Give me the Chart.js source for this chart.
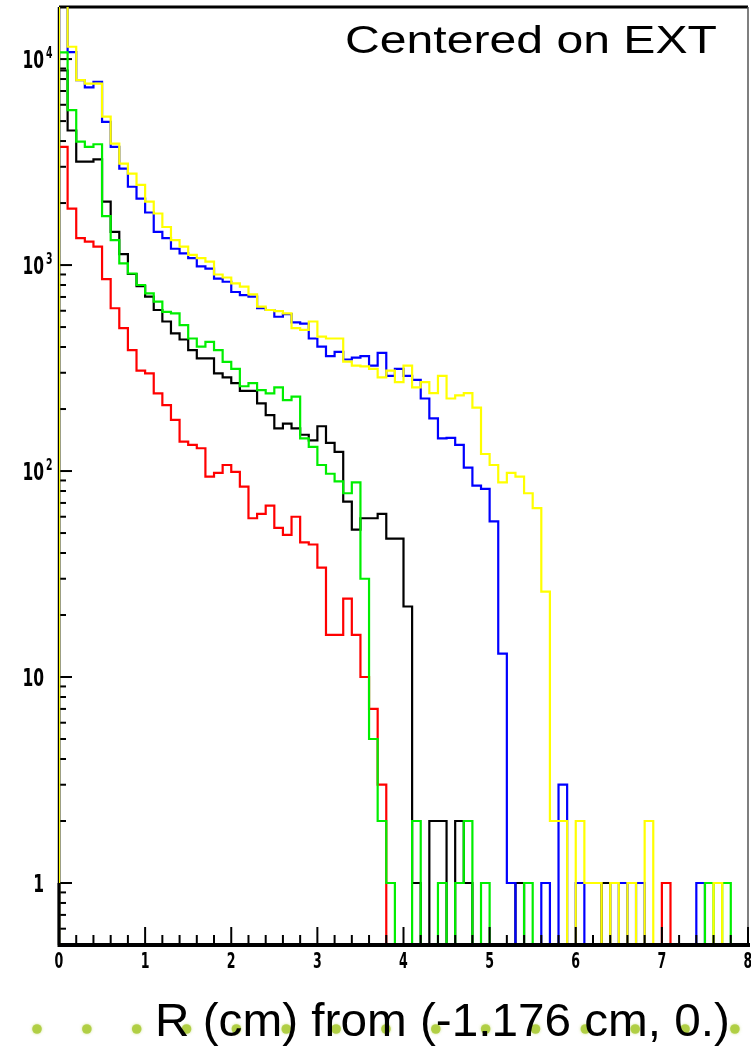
<!DOCTYPE html>
<html>
<head>
<meta charset="utf-8">
<script src="https://cdn.jsdelivr.net/npm/chart.js@4.4.1/dist/chart.umd.min.js"></script>
<style>
  html, body { margin: 0; padding: 0; background: #ffffff; }
  #wrap { position: relative; width: 751px; height: 1047px; }
</style>
</head>
<body>
<div id="wrap"><canvas id="chart"></canvas></div>
<script>
// Radial distribution of hits, R (cm) measured from (-1.176 cm, 0.), 80 bins of 0.1 cm.
const binWidth = 0.1;
const binLowEdges = Array.from({ length: 80 }, (_, i) => +(i * binWidth).toFixed(1));

const yellowCounts = [
  25000, 11480, 7910, 7600, 7600, 5250, 3890, 3110, 2780, 2450,
  2030, 1780, 1530, 1320, 1230, 1120, 1080, 1040, 900, 870,
  815, 785, 720, 628, 605, 598, 583, 494, 485, 532,
  449, 440, 440, 340, 325, 322, 313, 285, 307, 270,
  325, 255, 270, 239, 290, 225, 233, 239, 203, 121,
  107, 88, 98, 94, 78, 66, 26, 2, 2, 0,
  2, 1, 1, 0, 1, 0, 1, 0, 2, 0,
  0, 0, 0, 0, 0, 0, 1, 0, 0, 0
];
const blueCounts = [
  25000, 10800, 7900, 7290, 7760, 4960, 3750, 2940, 2400, 2100,
  1800, 1450, 1350, 1200, 1140, 1080, 985, 960, 860, 830,
  740, 715, 702, 617, 605, 561, 578, 527, 520, 440,
  402, 361, 379, 348, 355, 361, 325, 375, 290, 313,
  290, 277, 225, 180, 144, 145, 134, 104, 85, 82,
  57, 13, 1, 0, 0, 0, 1, 0, 3, 0,
  1, 0, 0, 0, 0, 1, 0, 1, 0, 0,
  0, 0, 0, 0, 1, 0, 0, 0, 0, 0
];
const greenCounts = [
  10770, 5650, 3970, 3750, 3860, 1730, 1320, 1020, 910, 800,
  729, 664, 593, 583, 511, 440, 402, 424, 386, 339,
  313, 258, 267, 247, 238, 255, 221, 230, 144, 131,
  107, 97, 89, 78, 88, 30, 5, 2, 1, 0,
  0, 2, 0, 0, 1, 0, 1, 2, 0, 1,
  0, 0, 0, 0, 1, 0, 0, 0, 0, 0,
  0, 0, 0, 0, 0, 0, 0, 0, 0, 0,
  0, 0, 0, 0, 0, 1, 0, 1, 0, 0
];
const redCounts = [
  3750, 1880, 1350, 1300, 1230, 855, 617, 494, 386, 307,
  298, 238, 209, 177, 139, 134, 129, 94, 98, 107,
  99, 84, 59, 62, 68, 53, 49, 60, 45, 44,
  34, 16, 16, 24, 16, 10, 7, 3, 0, 0,
  0, 0, 0, 0, 0, 0, 0, 0, 0, 0,
  0, 0, 0, 0, 0, 0, 0, 0, 0, 0,
  0, 0, 0, 0, 0, 0, 0, 0, 0, 0,
  1, 0, 0, 0, 0, 0, 0, 0, 0, 0
];
const blackCounts = [
  8800, 4500, 3180, 3180, 3260, 2030, 1450, 1130, 905, 790,
  702, 605, 532, 466, 435, 386, 352, 352, 298, 285,
  267, 245, 245, 213, 187, 161, 170, 161, 150, 141,
  165, 137, 124, 71, 52, 59, 59, 62, 47, 47,
  22, 1, 0, 2, 2, 0, 2, 1, 0, 0,
  0, 0, 0, 1, 0, 0, 0, 0, 0, 0,
  0, 0, 0, 1, 0, 0, 0, 0, 0, 0,
  0, 0, 0, 0, 0, 0, 0, 0, 0, 0
];

const xTickLabels = ['0', '1', '2', '3', '4', '5', '6', '7', '8'];
const yDecadeLabels = [
  { value: 1, base: '1', exp: '' },
  { value: 10, base: '10', exp: '' },
  { value: 100, base: '10', exp: '2' },
  { value: 1000, base: '10', exp: '3' },
  { value: 10000, base: '10', exp: '4' }
];
const titleText = 'Centered on EXT';
const axisTitleText = 'R (cm) from (-1.176 cm, 0.)';

const X_MIN = 0, X_MAX = 8;
const Y_MIN = 0.5, Y_MAX = 17900;
const FLOOR = 0.2; // empty bins fall below the visible floor of the log axis

function histogramPoints(counts) {
  const pts = [{ x: X_MIN, y: FLOOR }];
  counts.forEach((c, i) => pts.push({ x: binLowEdges[i], y: c > 0 ? c : FLOOR }));
  const last = counts[counts.length - 1];
  pts.push({ x: X_MAX, y: last > 0 ? last : FLOOR });
  pts.push({ x: X_MAX, y: FLOOR });
  return pts;
}

function histDataset(label, counts, color, order) {
  return {
    label,
    data: histogramPoints(counts),
    borderColor: color,
    backgroundColor: color,
    borderWidth: 2.2,
    pointRadius: 0,
    pointHoverRadius: 0,
    stepped: 'before',
    fill: false,
    tension: 0,
    borderCapStyle: 'butt',
    borderJoinStyle: 'miter',
    order
  };
}

function drawScaledText(ctx, text, x, y, font, sx, align) {
  ctx.save();
  ctx.font = font;
  ctx.textAlign = 'left';
  ctx.textBaseline = 'alphabetic';
  const w = ctx.measureText(text).width * sx;
  const x0 = align === 'right' ? x - w : (align === 'center' ? x - w / 2 : x);
  ctx.translate(x0, y);
  ctx.scale(sx, 1);
  ctx.fillText(text, 0, 0);
  ctx.restore();
  return w;
}

function drawFittedText(ctx, text, x, y, font, width) {
  ctx.save();
  ctx.font = font;
  const natural = ctx.measureText(text).width;
  ctx.restore();
  drawScaledText(ctx, text, x, y, font, width / natural, 'left');
}

function seg(ctx, x1, y1, x2, y2) {
  ctx.beginPath();
  ctx.moveTo(x1, y1);
  ctx.lineTo(x2, y2);
  ctx.stroke();
}

const slideDecor = {
  id: 'slideDecor',
  beforeDraw(chart) {
    const ctx = chart.ctx;
    ctx.save();
    ctx.fillStyle = '#ffffff';
    ctx.fillRect(0, 0, chart.width, chart.height);
    // row of bullet dots along the bottom of the slide
    ctx.fillStyle = 'rgba(172, 204, 58, 0.9)';
    ctx.shadowColor = 'rgba(172, 204, 58, 0.6)';
    ctx.shadowBlur = 3;
    for (let k = 0; k < 15; k++) {
      ctx.beginPath();
      ctx.arc(37 + 49.85 * k, 1029, 4.8, 0, Math.PI * 2);
      ctx.fill();
    }
    ctx.restore();
  },
  afterDraw(chart) {
    const ctx = chart.ctx;
    ctx.save();
    ctx.fillStyle = '#000000';
    drawFittedText(ctx, titleText, 345, 53, '38px "Liberation Sans", Arial, sans-serif', 372);
    drawFittedText(ctx, axisTitleText, 155, 1036, '46px "Liberation Sans", Arial, sans-serif', 575);
    ctx.restore();
  }
};

const frameAndAxes = {
  id: 'frameAndAxes',
  beforeDatasetsDraw(chart) {
    const { ctx, chartArea: a, scales: { y } } = chart;
    ctx.save();
    ctx.strokeStyle = '#000000';
    ctx.lineWidth = 3;
    seg(ctx, a.left, a.top, a.right, a.top);
    ctx.strokeStyle = '#555555';
    ctx.lineWidth = 1.5;
    seg(ctx, a.right, a.top, a.right, a.bottom);
    ctx.strokeStyle = '#000000';
    ctx.lineWidth = 2.5;
    seg(ctx, a.left, a.top, a.left, a.bottom);
    // y ticks drawn inside the frame
    ctx.lineWidth = 2;
    for (let d = -1; d <= 4; d++) {
      for (let k = 1; k <= 9; k++) {
        const v = k * Math.pow(10, d);
        if (v < Y_MIN || v > Y_MAX) continue;
        const py = y.getPixelForValue(v);
        const len = k === 1 ? 13 : 7;
        seg(ctx, a.left, py, a.left + len, py);
      }
    }
    ctx.restore();
  },
  afterDatasetsDraw(chart) {
    const { ctx, chartArea: a, scales: { x, y } } = chart;
    ctx.save();
    ctx.strokeStyle = '#000000';
    // left axis below unity
    ctx.lineWidth = 3;
    seg(ctx, a.left, y.getPixelForValue(1), a.left, a.bottom + 2);
    // bottom axis
    ctx.lineWidth = 4;
    seg(ctx, a.left - 1, a.bottom, a.right + 2, a.bottom);
    // x ticks every 0.2, longer at integers
    ctx.lineWidth = 2;
    for (let i = 0; i <= 40; i++) {
      const v = i * 0.2;
      const px = x.getPixelForValue(v);
      const len = i % 5 === 0 ? 18 : 10;
      seg(ctx, px, a.bottom, px, a.bottom - len);
    }
    // tick labels
    ctx.fillStyle = '#000000';
    xTickLabels.forEach((t, i) => {
      drawScaledText(ctx, t, x.getPixelForValue(i), 968, 'bold 21px "DejaVu Sans", sans-serif', 0.6, 'center');
    });
    yDecadeLabels.forEach(l => {
      const py = y.getPixelForValue(l.value);
      drawScaledText(ctx, l.base, 44, py + 9, 'bold 25px "DejaVu Sans", sans-serif', 0.62, 'right');
      if (l.exp) {
        drawScaledText(ctx, l.exp, 46, py - 1, 'bold 15px "DejaVu Sans", sans-serif', 0.62, 'left');
      }
    });
    ctx.restore();
  }
};

new Chart(document.getElementById('chart'), {
  type: 'line',
  data: {
    datasets: [
      histDataset('yellow', yellowCounts, '#ffff00', 1),
      histDataset('green', greenCounts, '#00ee00', 2),
      histDataset('blue', blueCounts, '#0000ff', 3),
      histDataset('red', redCounts, '#ff0000', 4),
      histDataset('black', blackCounts, '#000000', 5)
    ]
  },
  options: {
    responsive: true,
    maintainAspectRatio: false,
    devicePixelRatio: 1,
    animation: false,
    events: [],
    layout: { padding: { left: 59, right: 3, top: 7, bottom: 102 } },
    plugins: {
      legend: { display: false },
      tooltip: { enabled: false },
      title: { display: false }
    },
    scales: {
      x: { type: 'linear', min: X_MIN, max: X_MAX, display: false },
      y: { type: 'logarithmic', min: Y_MIN, max: Y_MAX, display: false }
    }
  },
  plugins: [slideDecor, frameAndAxes]
});
</script>
</body>
</html>
